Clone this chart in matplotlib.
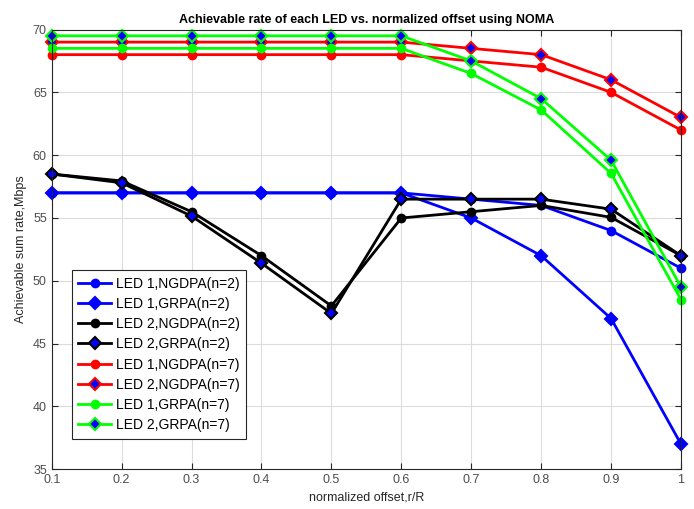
import matplotlib
matplotlib.use("Agg")
import matplotlib.pyplot as plt

plt.rcParams['font.family'] = ['Liberation Sans', 'DejaVu Sans']

# normalized offset r/R
offset = [0.1, 0.2, 0.3, 0.4, 0.5, 0.6, 0.7, 0.8, 0.9, 1.0]

# n = 2
led1_ngdpa_n2 = [57, 57, 57, 57, 57, 57, 56.5, 56, 54, 51]
led1_grpa_n2 = [57, 57, 57, 57, 57, 57, 55, 52, 47, 37]
led2_ngdpa_n2 = [58.5, 57.95, 55.5, 52, 48, 55, 55.5, 56, 55.05, 52]
led2_grpa_n2 = [58.5, 57.8, 55.15, 51.4, 47.4, 56.5, 56.5, 56.5, 55.7, 52]

# n = 7
led1_ngdpa_n7 = [68, 68, 68, 68, 68, 68, 67.5, 67, 65, 62]
led2_ngdpa_n7 = [69, 69, 69, 69, 69, 69, 68.5, 68, 66, 63]
led1_grpa_n7 = [68.5, 68.5, 68.5, 68.5, 68.5, 68.5, 66.5, 63.6, 58.55, 48.5]
led2_grpa_n7 = [69.5, 69.5, 69.5, 69.5, 69.5, 69.5, 67.5, 64.5, 59.6, 49.5]

series = [
    ("LED 1,NGDPA(n=2)", led1_ngdpa_n2, "#0000ff", "o", "#0000ff"),
    ("LED 1,GRPA(n=2)", led1_grpa_n2, "#0000ff", "D", "#0000ff"),
    ("LED 2,NGDPA(n=2)", led2_ngdpa_n2, "#000000", "o", "#000000"),
    ("LED 2,GRPA(n=2)", led2_grpa_n2, "#000000", "D", "#0000ff"),
    ("LED 1,NGDPA(n=7)", led1_ngdpa_n7, "#ff0000", "o", "#ff0000"),
    ("LED 2,NGDPA(n=7)", led2_ngdpa_n7, "#ff0000", "D", "#0000ff"),
    ("LED 1,GRPA(n=7)", led1_grpa_n7, "#00ff00", "o", "#00ff00"),
    ("LED 2,GRPA(n=7)", led2_grpa_n7, "#00ff00", "D", "#0000ff"),
]

fig = plt.figure(figsize=(6.94, 5.09), dpi=100)
ax = fig.add_axes([0.0745, 0.078, 0.9068, 0.864])

for label, vals, col, mk, face in series:
    ms = 5.5 if mk == "o" else 6.5
    ax.plot(offset, vals, color=col, lw=2, marker=mk, ms=ms,
            markerfacecolor=face, markeredgecolor=col, markeredgewidth=1.5,
            label=label, clip_on=False)

ax.set_xlim(0.1, 1.0)
ax.set_ylim(35, 70)
ax.set_xticks(offset)
ax.set_xticklabels(["0.1", "0.2", "0.3", "0.4", "0.5", "0.6", "0.7", "0.8", "0.9", "1"])
ax.set_yticks([35, 40, 45, 50, 55, 60, 65, 70])
ax.grid(True, color="#dcdcdc", lw=0.8)
ax.set_axisbelow(True)
ax.tick_params(direction="in", labelsize=9, colors="#262626", length=4,
               top=True, right=True, labelcolor="#4d4d4d")
for s in ax.spines.values():
    s.set_color("#262626")
    s.set_linewidth(0.8)

ax.set_title("Achievable rate of each LED vs. normalized offset using NOMA",
             fontsize=9, fontweight="bold", pad=5)
ax.set_xlabel("normalized offset,r/R", fontsize=9, color="#262626", labelpad=4)
ax.set_ylabel("Achievable sum rate,Mbps", fontsize=9, color="#262626", labelpad=4)

leg = ax.legend(loc="lower left", bbox_to_anchor=(0.032, 0.07), fontsize=10,
                handlelength=2.4, labelspacing=0.45, borderpad=0.45,
                handletextpad=0.3, fancybox=False, framealpha=1,
                edgecolor="#262626", borderaxespad=0)
leg.get_frame().set_linewidth(0.8)

fig.savefig("out.png", dpi=100)
